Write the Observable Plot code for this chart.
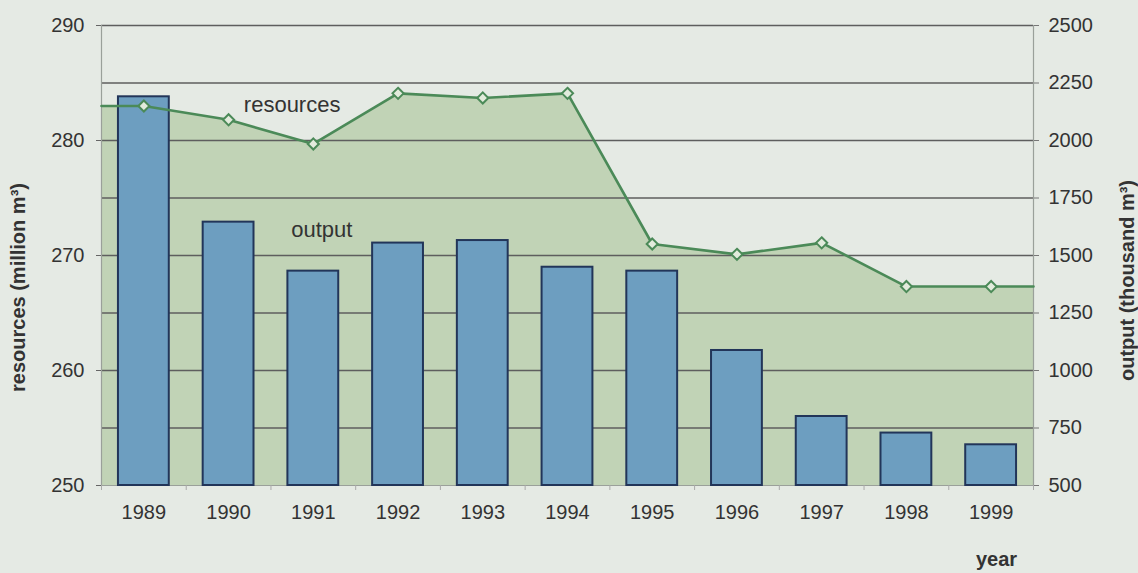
<!DOCTYPE html>
<html><head><meta charset="utf-8">
<script src="https://cdn.jsdelivr.net/npm/d3@7"></script>
<script src="https://cdn.jsdelivr.net/npm/@observablehq/plot@0.6"></script>
<style>
html,body{margin:0;padding:0;background:#e5eae4;}
#chart{width:1138px;height:573px;}
</style></head><body><div id="chart"></div>
<script>
// Data
const years = [1989, 1990, 1991, 1992, 1993, 1994, 1995, 1996, 1997, 1998, 1999];
const resources = [283.0, 281.8, 279.7, 284.1, 283.7, 284.1, 271.0, 270.1, 271.1, 267.3, 267.3]; // million m3
const output = [2190, 1645, 1432, 1554, 1565, 1449, 1432, 1087, 800, 728, 677];                  // thousand m3
const leftTicks = [250, 260, 270, 280, 290];
const rightTicks = [500, 750, 1000, 1250, 1500, 1750, 2000, 2250, 2500];
const annotations = [
  {text: "resources", year: 1990.75, value: 283.1},
  {text: "output", year: 1991.1, value: 272.2}
];
const leftTitle = "resources (million m³)";
const rightTitle = "output (thousand m³)";
const xTitle = "year";

// dual-axis mapping: output (500..2500) onto resources (250..290)
const outToRes = v => 250 + (v - 500) / 50;
const resToOut = r => Math.round(500 + (r - 250) * 50);

const resData = years.map((y, i) => ({year: y, value: resources[i]}));
const outData = years.map((y, i) => ({year: y, value: output[i]}));
const areaData = [
  {year: years[0] - 0.5, value: resources[0]},
  ...resData,
  {year: years[years.length - 1] + 0.5, value: resources[resources.length - 1]}
];
const xMin = years[0] - 0.5, xMax = years[years.length - 1] + 0.5;
const boundaries = d3.range(xMin, xMax + 0.01, 1);

const green = "#4b8a58";
const font = "'Liberation Sans', Arial, sans-serif";

const chart = Plot.plot({
  width: 1138,
  height: 573,
  marginLeft: 101,
  marginRight: 105,
  marginTop: 25,
  marginBottom: 88,
  style: {background: "#e5eae4", fontFamily: font, fontSize: "20px", color: "#333"},
  x: {type: "linear", domain: [xMin, xMax], axis: null},
  y: {domain: [250, 290], axis: null},
  marks: [
    Plot.areaY(areaData, {x: "year", y1: 250, y2: "value", fill: "#c1d3b6"}),
    Plot.ruleY(rightTicks.slice(1).map(outToRes), {stroke: "#5e5e5e", strokeWidth: 1.3}),
    Plot.ruleX([xMin, xMax], {y1: 250, y2: 290, stroke: "#9aa09a", strokeWidth: 1.2}),
    Plot.ruleY([250], {stroke: "#9aa09a", strokeWidth: 1.2}),
    Plot.rectY(outData, {
      x1: d => d.year - 0.3, x2: d => d.year + 0.3,
      y1: 250, y2: d => outToRes(d.value),
      fill: "#6d9ec0", stroke: "#223559", strokeWidth: 2
    }),
    Plot.line(areaData, {x: "year", y: "value", stroke: green, strokeWidth: 2.6}),
    Plot.dot(resData, {x: "year", y: "value", symbol: "diamond2", r: 5, fill: "#e2ebdc", stroke: green, strokeWidth: 2}),
    Plot.text(annotations, {x: "year", y: "value", text: "text", fontSize: 22, fill: "#333"}),
    // left axis
    Plot.axisY(leftTicks, {anchor: "left", label: null, tickSize: 5, tickPadding: 12, stroke: "#666", fill: "#333", tickFormat: d => String(d)}),
    // right axis (output scale)
    Plot.axisY(rightTicks.map(outToRes), {anchor: "right", label: null, tickSize: 5, tickPadding: 10, stroke: "#777", fill: "#333", tickFormat: r => String(resToOut(r))}),
    // x axis tick marks between categories
    Plot.axisX(boundaries, {anchor: "bottom", label: null, tickSize: 5, tickFormat: () => "", stroke: "#aaa"}),
    Plot.axisX(years, {anchor: "bottom", label: null, tickSize: 0, tickPadding: 19, fill: "#333", tickFormat: d => String(d)}),
    // axis titles
    Plot.text([leftTitle], {frameAnchor: "left", textAnchor: "middle", dx: -83, dy: 32, rotate: -90, fontWeight: "bold", fontSize: 20, fill: "#333"}),
    Plot.text([rightTitle], {frameAnchor: "right", textAnchor: "middle", dx: 94, dy: 25, rotate: -90, fontWeight: "bold", fontSize: 20, fill: "#333"}),
    Plot.text([xTitle], {frameAnchor: "bottom-right", textAnchor: "middle", dx: -37, dy: 80, fontWeight: "bold", fontSize: 20, fill: "#333"})
  ]
});
document.getElementById("chart").appendChild(chart);
</script>
</body></html>
